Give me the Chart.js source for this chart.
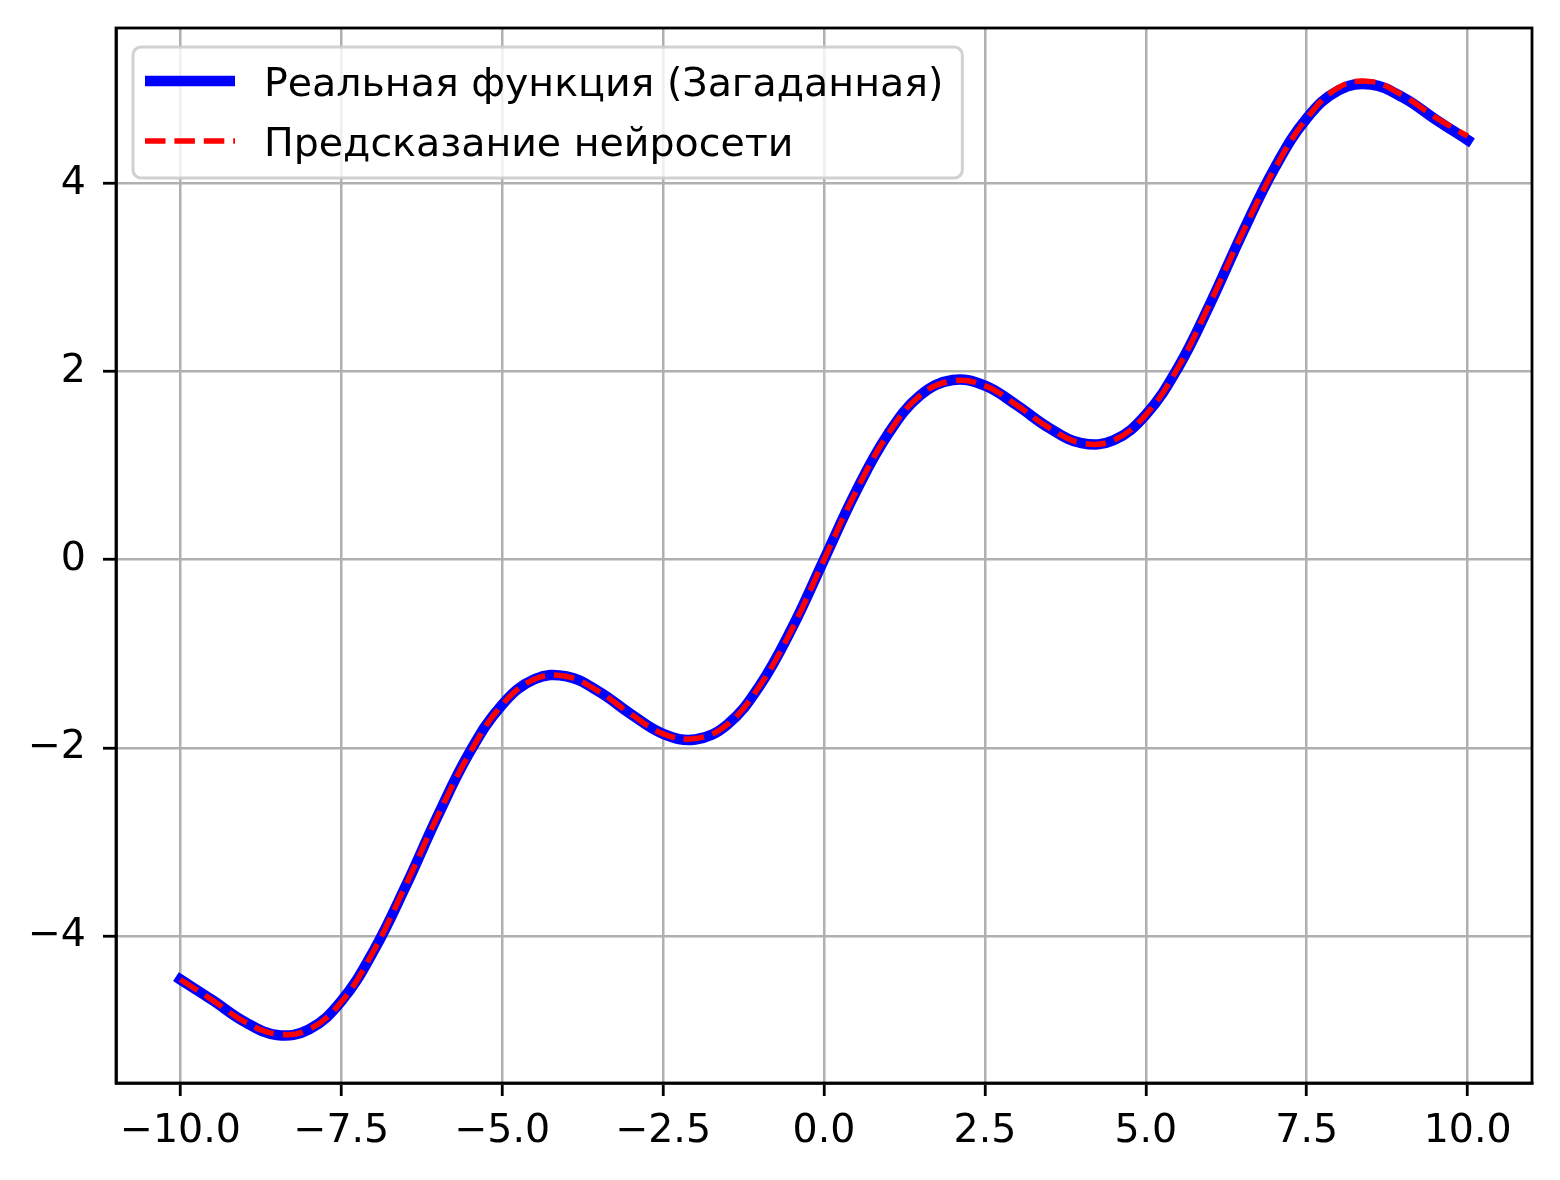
<!DOCTYPE html>
<html>
<head>
<meta charset="utf-8">
<script src="https://cdn.jsdelivr.net/npm/chart.js@4/dist/chart.umd.min.js"></script>
<style>
  body { margin: 0; background: #fff; }
  canvas { display: block; }
</style>
</head>
<body>
<canvas id="chart" width="1560" height="1180"></canvas>
<script>
const xValues = [-10, -9.5, -9, -8.5, -8, -7.5, -7, -6.5, -6, -5.5, -5, -4.5, -4, -3.5, -3, -2.5, -2, -1.5, -1, -0.5,
  0, 0.5, 1, 1.5, 2, 2.5, 3, 3.5, 4, 4.5, 5, 5.5, 6, 6.5, 7, 7.5, 8, 8.5, 9, 9.5, 10];
const realValues = [-4.46, -4.68, -4.91, -5.05, -4.99, -4.69, -4.16, -3.47, -2.72, -2.04, -1.54, -1.27, -1.24, -1.40, -1.64, -1.85, -1.91, -1.75, -1.34, -0.73,
  0, 0.73, 1.34, 1.75, 1.91, 1.85, 1.64, 1.40, 1.24, 1.27, 1.54, 2.04, 2.72, 3.47, 4.16, 4.69, 4.99, 5.05, 4.91, 4.68, 4.46];
const predValues = [-4.46, -4.68, -4.91, -5.04, -4.99, -4.70, -4.16, -3.46, -2.72, -2.05, -1.54, -1.27, -1.24, -1.40, -1.64, -1.85, -1.90, -1.75, -1.34, -0.74,
  0, 0.73, 1.34, 1.75, 1.90, 1.85, 1.64, 1.40, 1.24, 1.27, 1.54, 2.04, 2.73, 3.47, 4.15, 4.69, 5.02, 5.08, 4.93, 4.70, 4.50];
const xTicks = [-10, -7.5, -5, -2.5, 0, 2.5, 5, 7.5, 10];
const yTicks = [-4, -2, 0, 2, 4];
const labels = ['Реальная функция (Загаданная)', 'Предсказание нейросети'];

const FONT = '"DejaVu Sans", sans-serif';
const SIZE = 39.5;
const minus = s => s.replace('-', '\u2212');

const frame = {
  id: 'frame',
  afterDatasetsDraw(chart) {
    const { ctx, chartArea: a } = chart;
    ctx.save();
    ctx.strokeStyle = '#000';
    ctx.lineWidth = 2.8;
    ctx.strokeRect(a.left, a.top, a.right - a.left, a.bottom - a.top);
    ctx.restore();
  },
};

const boxLegend = {
  id: 'boxLegend',
  afterDraw(chart) {
    const { ctx } = chart;
    const ds = chart.data.datasets;
    ctx.save();
    ctx.font = SIZE + 'px ' + FONT;
    const textX = 264;
    const w = Math.max(...ds.map(d => ctx.measureText(d.label).width));
    const bx = 133, by = 47, bw = textX + w + 19 - bx, bh = 131;
    ctx.beginPath();
    ctx.roundRect(bx, by, bw, bh, 8);
    ctx.fillStyle = 'rgba(255,255,255,0.8)';
    ctx.fill();
    ctx.strokeStyle = 'rgba(204,204,204,0.9)';
    ctx.lineWidth = 3;
    ctx.stroke();
    ds.forEach((d, i) => {
      const base = 96 + i * 60;
      const ly = base - 15;
      ctx.beginPath();
      ctx.setLineDash(d.borderDash || []);
      ctx.lineWidth = d.borderWidth;
      ctx.strokeStyle = d.borderColor;
      ctx.lineCap = 'butt';
      ctx.moveTo(145, ly);
      ctx.lineTo(235, ly);
      ctx.stroke();
      ctx.setLineDash([]);
      ctx.fillStyle = '#000';
      ctx.textBaseline = 'alphabetic';
      ctx.fillText(d.label, textX, base);
    });
    ctx.restore();
  },
};

const noPad = s => { s.paddingTop = 0; s.paddingBottom = 0; s.paddingLeft = 0; s.paddingRight = 0; };

new Chart(document.getElementById('chart'), {
  type: 'line',
  data: {
    datasets: [
      {
        label: labels[0],
        data: xValues.map((x, i) => ({ x, y: realValues[i] })),
        borderColor: '#0000ff',
        borderWidth: 10.5,
        borderCapStyle: 'square',
        pointRadius: 0,
        tension: 0.4,
        order: 2,
      },
      {
        label: labels[1],
        data: xValues.map((x, i) => ({ x, y: predValues[i] })),
        borderColor: '#ff0000',
        borderWidth: 5.5,
        borderDash: [20.5, 8.9],
        pointRadius: 0,
        tension: 0.4,
        order: 1,
      },
    ],
  },
  options: {
    responsive: false,
    devicePixelRatio: 1,
    animation: false,
    layout: { padding: { top: 28, right: 28, left: 0, bottom: 0 } },
    plugins: { legend: { display: false }, tooltip: { enabled: false } },
    scales: {
      x: {
        type: 'linear',
        min: -11,
        max: 11,
        afterBuildTicks: s => { s.ticks = xTicks.map(value => ({ value })); },
        afterFit: s => { s.height = 97; noPad(s); },
        ticks: {
          color: '#000',
          padding: 12,
          maxRotation: 0,
          font: { family: FONT, size: SIZE },
          callback: v => minus(v.toFixed(1)),
        },
        grid: { color: '#b0b0b0', lineWidth: 2.5, tickColor: '#000', tickWidth: 2.8, tickLength: 13 },
        border: { color: '#000', width: 2.8 },
      },
      y: {
        min: -5.56,
        max: 5.65,
        afterBuildTicks: s => { s.ticks = yTicks.map(value => ({ value })); },
        afterFit: s => { s.width = 116; noPad(s); },
        ticks: {
          color: '#000',
          padding: 17,
          font: { family: FONT, size: SIZE },
          callback: v => minus(String(v)),
        },
        grid: { color: '#b0b0b0', lineWidth: 2.5, tickColor: '#000', tickWidth: 2.8, tickLength: 13 },
        border: { color: '#000', width: 2.8 },
      },
    },
  },
  plugins: [frame, boxLegend],
});
</script>
</body>
</html>
